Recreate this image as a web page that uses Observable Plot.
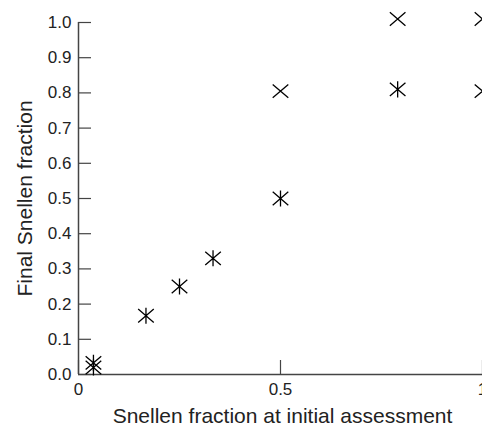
<!DOCTYPE html>
<html>
<head>
<meta charset="utf-8">
<script src="https://cdn.jsdelivr.net/npm/d3@7"></script>
<script src="https://cdn.jsdelivr.net/npm/@observablehq/plot@0.6"></script>
<style>
  html, body { margin: 0; padding: 0; background: #fff; }
</style>
</head>
<body>
<div id="chart"></div>
<script>
// Asterisk series
const asteriskX = [0.037, 0.037, 0.167, 0.25, 0.333, 0.5, 0.79];
const asteriskY = [0.033, 0.02, 0.167, 0.25, 0.33, 0.5, 0.81];
// Cross series
const crossX = [0.5, 0.79, 1.0, 1.0];
const crossY = [0.805, 1.01, 1.01, 0.805];
// Ticks
const xTicks = [0, 0.5, 1];
const yTicks = [0, 0.1, 0.2, 0.3, 0.4, 0.5, 0.6, 0.7, 0.8, 0.9, 1.0];
const xTitle = "Snellen fraction at initial assessment";
const yTitle = "Final Snellen fraction";

const asterisks = asteriskX.map((x, i) => ({x, y: asteriskY[i]}));
const crosses = crossX.map((x, i) => ({x, y: crossY[i]}));

// marker shapes (relative to radius)
function crossPath(context, r) {
  const w = r * 1.04, h = r * 0.89;
  context.moveTo(-w, -h); context.lineTo(w, h);
  context.moveTo(-w, h); context.lineTo(w, -h);
}
const symbolCross = {draw(context, size) { crossPath(context, Math.sqrt(size / Math.PI)); }};
const symbolStar = {draw(context, size) {
  const r = Math.sqrt(size / Math.PI);
  crossPath(context, r);
  context.moveTo(0, -r * 1.07); context.lineTo(0, r * 1.07);
}};

const chart = Plot.plot({
  width: 482,
  height: 425,
  marginLeft: 78,
  marginRight: 0,
  marginTop: 22,
  marginBottom: 51,
  style: {fontFamily: "'Liberation Sans', Arial, Helvetica, sans-serif", fontSize: "17px", color: "#222", background: "#fff", overflow: "visible"},
  x: {domain: [0, 1]},
  y: {domain: [0, 1]},
  marks: [
    Plot.axisY(yTicks, {tickSize: -13, tickPadding: 20, tickFormat: d3.format(".1f"), label: null, stroke: "#444", strokeWidth: 1.2, fontSize: 17}),
    Plot.axisX(xTicks, {tickSize: -14, tickPadding: 22, tickFormat: d => d3.format("~g")(d), label: null, stroke: "#444", strokeWidth: 1.2, fontSize: 17}),
    Plot.ruleX([0], {stroke: "#444", strokeWidth: 1.5}),
    Plot.ruleY([0], {stroke: "#444", strokeWidth: 1.5}),
    Plot.dot(asterisks, {x: "x", y: "y", symbol: symbolStar, r: 7.5, stroke: "#000", strokeWidth: 1.3}),
    Plot.dot(crosses, {x: "x", y: "y", symbol: symbolCross, r: 7.5, stroke: "#000", strokeWidth: 1.3}),
    Plot.text([xTitle], {frameAnchor: "bottom", dx: 2, dy: 48, lineAnchor: "bottom", textAnchor: "middle", fontSize: 21, fill: "#222"}),
    Plot.text([yTitle], {frameAnchor: "left", dx: -53, rotate: -90, lineAnchor: "middle", textAnchor: "middle", fontSize: 21, fill: "#222"})
  ]
});
document.getElementById("chart").appendChild(chart);
</script>
</body>
</html>
